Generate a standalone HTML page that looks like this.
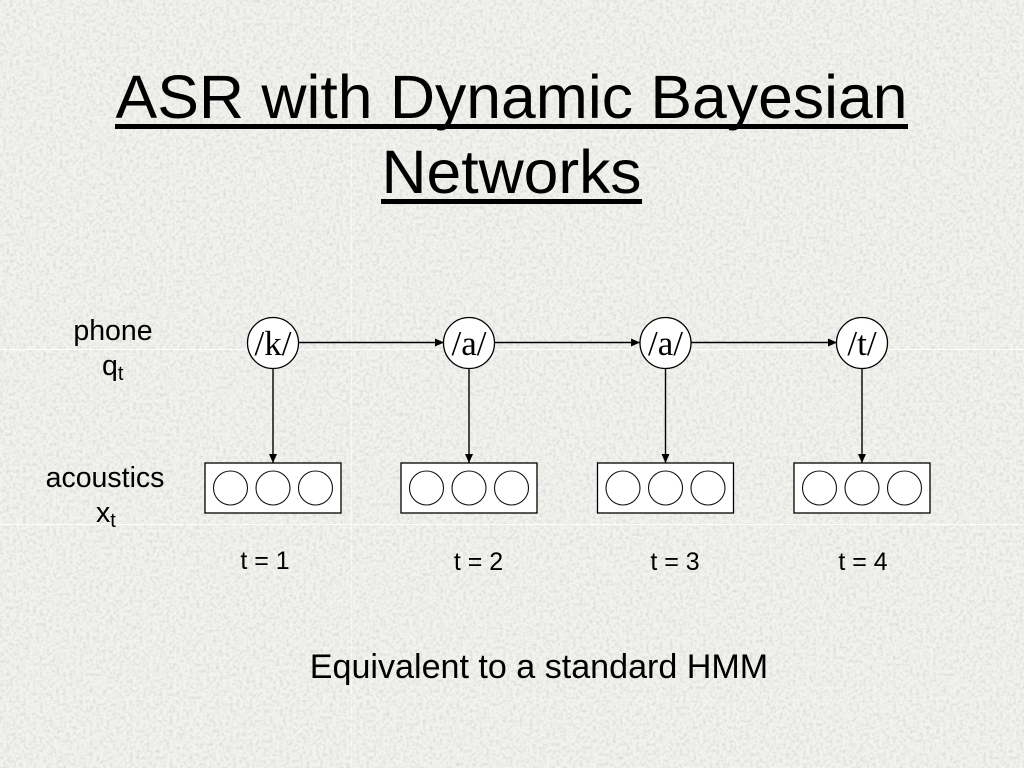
<!DOCTYPE html>
<html><head><meta charset="utf-8"><style>
html,body{margin:0;padding:0;background:#ebebe8}
svg{display:block}
text{font-family:"Liberation Sans",sans-serif;fill:#000}
.s{font-family:"Liberation Serif",serif;font-size:35px}
</style></head><body>
<svg width="1024" height="768" viewBox="0 0 1024 768" xmlns="http://www.w3.org/2000/svg">
<defs>
<filter id="n" x="0" y="0" width="100%" height="100%">
<feTurbulence type="fractalNoise" baseFrequency="0.3" numOctaves="3" seed="4"/>
<feColorMatrix type="matrix" values="0 0 0 0 0.4  0 0 0 0 0.4  0 0 0 0 0.38  1.3 0 0 0 -0.54"/>
</filter>
<marker id="a" markerWidth="10" markerHeight="10" refX="9" refY="4" orient="auto" markerUnits="userSpaceOnUse"><path d="M0 0L9 4L0 8z" fill="#000"/></marker>
<g id="v"><rect x="205" y="463" width="136" height="50" fill="#fff" stroke="#000" stroke-width="1.300"/>
<circle cx="230.500" cy="488" r="17" fill="#fff" stroke="#111" stroke-width="1.100"/>
<circle cx="273" cy="488" r="17" fill="#fff" stroke="#111" stroke-width="1.100"/>
<circle cx="315.500" cy="488" r="17" fill="#fff" stroke="#111" stroke-width="1.100"/></g>
</defs>
<rect width="1024" height="768" fill="#f2f2ef"/>
<rect width="1024" height="768" filter="url(#n)" opacity=".55"/>
<g stroke="#fff" stroke-width="1" opacity=".85">
<path d="M0 349.500H1024M0 524.500H1024"/>
<path d="M351.500 0V768" opacity=".6"/>
<path d="M0 174.500H1024M0 699.500H1024M175.500 0V768M526.500 0V768M701.500 0V768M876.500 0V768" opacity=".2"/>
</g>
<text x="511.500" y="118" text-anchor="middle" font-size="61" textLength="792" lengthAdjust="spacingAndGlyphs">ASR with Dynamic Bayesian</text>
<rect x="115" y="124" width="793" height="5"/>
<text x="511.500" y="193" text-anchor="middle" font-size="61" textLength="260" lengthAdjust="spacingAndGlyphs">Networks</text>
<rect x="381" y="199" width="261" height="5"/>
<g stroke="#000" stroke-width="1.400" fill="none">
<path d="M299 342.500H444" marker-end="url(#a)"/>
<path d="M495 342.500H640" marker-end="url(#a)"/>
<path d="M691 342.500H837" marker-end="url(#a)"/>
<path d="M273 369V463" marker-end="url(#a)"/>
<path d="M469 369V463" marker-end="url(#a)"/>
<path d="M665.500 369V463" marker-end="url(#a)"/>
<path d="M862 369V463" marker-end="url(#a)"/>
</g>
<g fill="#fff" stroke="#000" stroke-width="1.300">
<circle cx="273" cy="343" r="25.500"/><circle cx="469" cy="343" r="25.500"/>
<circle cx="665.500" cy="343" r="25.500"/><circle cx="862" cy="343" r="25.500"/>
</g>
<g text-anchor="middle">
<text class="s" x="273" y="355">/k/</text><text class="s" x="469" y="355">/a/</text>
<text class="s" x="665.500" y="355">/a/</text><text class="s" x="862" y="355">/t/</text>
</g>
<use href="#v"/><use href="#v" x="196"/><use href="#v" x="392.500"/><use href="#v" x="589"/>
<g font-size="28.500" text-anchor="middle">
<text x="113" y="340">phone</text>
<text x="105" y="487">acoustics</text>
</g>
<text x="102" y="375" font-size="28.500">q<tspan font-size="20" dy="5">t</tspan></text>
<text x="96" y="522" font-size="28.500">x<tspan font-size="20" dy="5">t</tspan></text>
<g font-size="25" text-anchor="middle">
<text x="265" y="569">t = 1</text><text x="478.500" y="570">t = 2</text>
<text x="675" y="570">t = 3</text><text x="863" y="570">t = 4</text>
</g>
<text x="539" y="678" font-size="34.100" text-anchor="middle">Equivalent to a standard HMM</text>
</svg>
</body></html>
